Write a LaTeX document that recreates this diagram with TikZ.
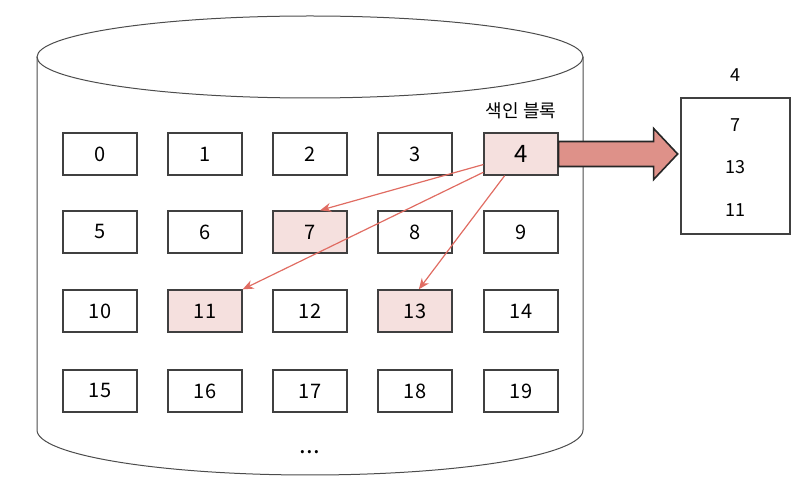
\documentclass[tikz,border=0pt]{standalone}
\usepackage{fontspec}
\setmainfont{Noto Sans CJK KR}
\usepackage{tikz}
\usetikzlibrary{arrows,arrows.meta,positioning}

\definecolor{blockpink}{RGB}{245,224,222}
\definecolor{ptrred}{RGB}{222,145,137}
\definecolor{linkred}{RGB}{224,108,98}

\begin{document}
\begin{tikzpicture}[
  x=0.5pt, y=0.5pt,
  block/.style={draw=black!75, line width=0.65pt, minimum width=37pt, minimum height=21pt, inner sep=0pt, font=\normalsize},
  used/.style={block, fill=blockpink},
  link/.style={-{Stealth[length=5.5pt, width=4.5pt]}, linkred, line width=0.6pt},
  bigarrow/.style={draw=black!85, line width=0.8pt, fill=ptrred},
]
\useasboundingbox (0,0) rectangle (810,504);

% disk
\draw[black!70, line width=0.5pt] (310,447) ellipse [x radius=273, y radius=41];
\draw[black!70, line width=0.5pt] (37,447) -- (37,74) arc [start angle=180, end angle=360, x radius=273, y radius=45] -- (583,447);

\node[block] (b0) at (100,350) {0};
\node[block] (b1) at (205,350) {1};
\node[block] (b2) at (310,350) {2};
\node[block] (b3) at (415,350) {3};
\node[used] (b4) at (521,350) {\large 4};

\node[block] (b5) at (100,272) {5};
\node[block] (b6) at (205,272) {6};
\node[used] (b7) at (310,272) {7};
\node[block] (b8) at (415,272) {8};
\node[block] (b9) at (521,272) {9};

\node[block] (b10) at (100,193) {10};
\node[used] (b11) at (205,193) {11};
\node[block] (b12) at (310,193) {12};
\node[used] (b13) at (415,193) {13};
\node[block] (b14) at (521,193) {14};

\node[block] (b15) at (100,113) {15};
\node[block] (b16) at (205,113) {16};
\node[block] (b17) at (310,113) {17};
\node[block] (b18) at (415,113) {18};
\node[block] (b19) at (521,113) {19};

\node[font=\large] (dots) at (310,52) {...};
\node[above=3pt of b4, font=\small] (idxlabel) {색인 블록};

% index block contents
\node[draw=black!75, line width=0.8pt, minimum width=54.5pt, minimum height=68pt] (idx) at (735.5,338) {};
\node[font=\small] (e0) at (735.5,429) {4};
\node[font=\small] (e1) at (735.5,379) {7};
\node[font=\small] (e2) at (735.5,337) {13};
\node[font=\small] (e3) at (735.5,294) {11};

\draw[bigarrow] (b4.east) ++(0,12.5) -- ++(95,0) -- ++(0,13) -- ++(24,-25.5) -- ++(-24,-25.5) -- ++(0,13) -- ++(-95,0) -- cycle;

\draw[link] (b4) -- (b7.65);
\draw[link] (b4) -- (b11.north east);
\draw[link] (b4) -- (b13.80);
\end{tikzpicture}
\end{document}
